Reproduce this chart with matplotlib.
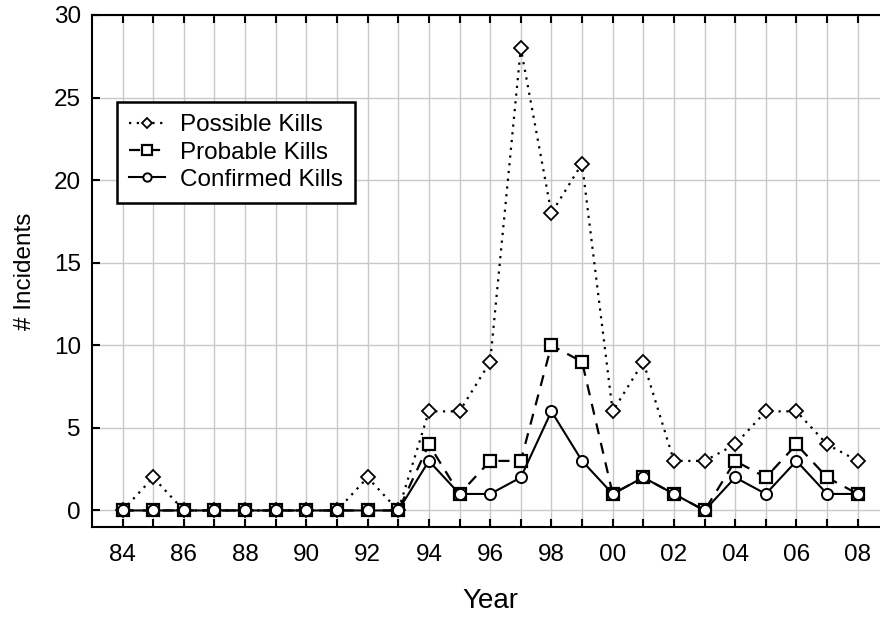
import matplotlib.pyplot as plt

plt.rcParams['font.family'] = ['Liberation Sans', 'DejaVu Sans']

years = list(range(1984, 2009))
year_labels = ['84', '86', '88', '90', '92', '94', '96', '98',
               '00', '02', '04', '06', '08']
possible = [0, 2, 0, 0, 0, 0, 0, 0, 2, 0, 6, 6, 9, 28, 18, 21, 6, 9, 3, 3, 4, 6, 6, 4, 3]
probable = [0, 0, 0, 0, 0, 0, 0, 0, 0, 0, 4, 1, 3, 3, 10, 9, 1, 2, 1, 0, 3, 2, 4, 2, 1]
confirmed = [0, 0, 0, 0, 0, 0, 0, 0, 0, 0, 3, 1, 1, 2, 6, 3, 1, 2, 1, 0, 2, 1, 3, 1, 1]

fig = plt.figure(figsize=(8.8, 6.17), dpi=100)
ax = fig.add_axes([0.1045, 0.1459, 0.905, 0.8298])

ax.plot(years, possible, color='black', linestyle=(0, (1, 2.5)), linewidth=1.6,
        marker='D', markersize=7, markerfacecolor='white',
        markeredgecolor='black', markeredgewidth=1.3, label='Possible Kills')
ax.plot(years, probable, color='black', linestyle=(0, (5, 4)), linewidth=1.6,
        marker='s', markersize=9, markerfacecolor='white',
        markeredgecolor='black', markeredgewidth=1.6, label='Probable Kills')
ax.plot(years, confirmed, color='black', linestyle='-', linewidth=1.5,
        marker='o', markersize=8, markerfacecolor='white',
        markeredgecolor='black', markeredgewidth=1.4, label='Confirmed Kills')

ax.set_xlim(1983, 2009)
ax.set_ylim(-1, 30)
ax.set_xticks(years, minor=True)
ax.set_xticks(years[::2])
ax.set_xticklabels(year_labels)
ax.set_yticks([0, 5, 10, 15, 20, 25, 30])
ax.tick_params(axis='both', which='both', direction='in', top=True, right=True,
               labelsize=17.5, width=1.5, length=6)
ax.tick_params(axis='x', which='both', pad=12)
ax.tick_params(axis='y', which='both', pad=8)

ax.grid(True, which='both', axis='x', color='#c8c8c8', linewidth=1)
ax.grid(True, which='major', axis='y', color='#c8c8c8', linewidth=1)
ax.set_axisbelow(True)
for s in ax.spines.values():
    s.set_linewidth(1.5)

ax.set_xlabel('Year', fontsize=20, labelpad=16)
ax.set_ylabel('# Incidents', fontsize=17.5, labelpad=13)

leg = ax.legend(loc='upper left', bbox_to_anchor=(0.031, 0.83), fontsize=17.5,
                frameon=True, fancybox=False, edgecolor='black', framealpha=1,
                handlelength=1.5, borderpad=0.5, labelspacing=0.22,
                handletextpad=0.6, borderaxespad=0, markerscale=0.75)
leg.get_frame().set_linewidth(1.8)

fig.savefig('out.png', dpi=100)
